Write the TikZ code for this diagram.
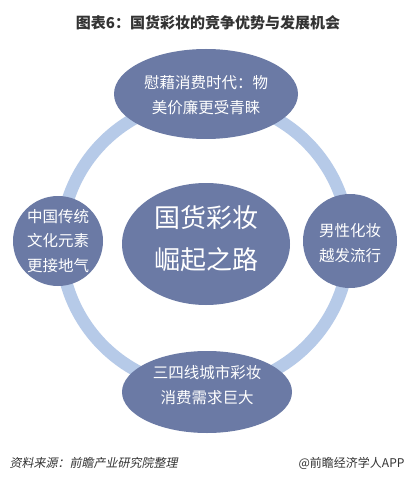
\documentclass[tikz,border=0pt]{standalone}
\usepackage{fontspec}
\setmainfont{Noto Sans CJK SC}
\newfontfamily\cjkit[FakeSlant=0.2]{Noto Sans CJK SC}
\definecolor{nodefill}{RGB}{107,122,165}
\definecolor{ringblue}{RGB}{182,202,232}
\definecolor{textgray}{RGB}{51,51,51}
\begin{document}
\begin{tikzpicture}[x=1pt,y=-1pt,
  smalltext/.style={font=\fontsize{15.5}{24.5}\selectfont},
  bigtext/.style={font=\fontsize{26}{42}\selectfont}]
\useasboundingbox (0,0) rectangle (416,481);
\fill[white] (0,0) rectangle (416,481);
\node[font=\bfseries\fontsize{15}{18}\selectfont,text=textgray] (title) at (208,23) {图表6：国货彩妆的竞争优势与发展机会};
\coordinate (c) at (205,244);
\draw[ringblue,line width=12.5pt] (c) circle [radius=144];
% bubbles
\fill[nodefill] (206,94) ellipse [x radius=92, y radius=45];
\node[text=white,align=center,smalltext] (top) at (206,95) {慰藉消费时代：物\\美价廉更受青睐};
\fill[nodefill] (58,241) circle [radius=45];
\node[text=white,align=center,smalltext] (left) at (58,241) {中国传统\\文化元素\\更接地气};
\fill[nodefill] (350,241) circle [radius=47];
\node[text=white,align=center,smalltext] (right) at (350,243) {男性化妆\\越发流行};
\fill[nodefill] (207,392) ellipse [x radius=85, y radius=41];
\node[text=white,align=center,smalltext] (bottom) at (207,385) {三四线城市彩妆\\消费需求巨大};
\fill[nodefill] (206,244) ellipse [x radius=84, y radius=61];
\node[text=white,align=center,bigtext] (center) at (206,239) {国货彩妆\\崛起之路};
% footer
\node[anchor=west,text=textgray,font=\cjkit\fontsize{12}{14}\selectfont] (src) at (6,463) {资料来源：前瞻产业研究院整理};
\node[anchor=east,text=textgray,font=\fontsize{12}{14}\selectfont] (brand) at (408,463) {@前瞻经济学人APP};
\end{tikzpicture}
\end{document}
